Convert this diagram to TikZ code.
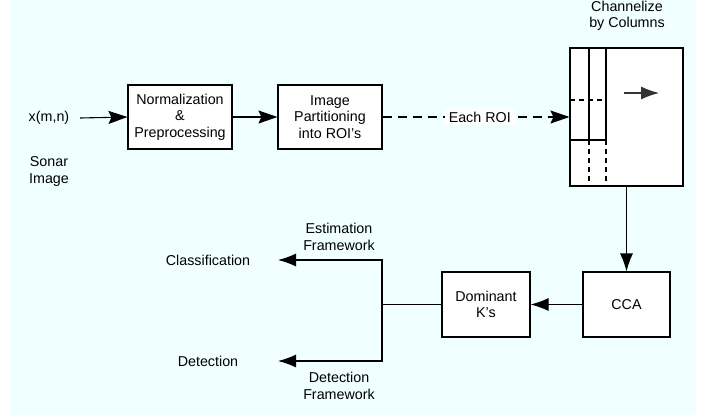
\documentclass[tikz,border=0pt]{standalone}
\usepackage{fontspec}
\setmainfont{Liberation Sans}
\usetikzlibrary{arrows.meta}
\definecolor{bgcyan}{HTML}{F0FFFF}
\definecolor{tipgray}{HTML}{333333}
\begin{document}
\begin{tikzpicture}[x=1pt,y=-1pt,
  every node/.style={font=\fontsize{14.3}{16.5}\selectfont, align=center, inner sep=0pt},
  blockbox/.style={draw, line width=1.1pt, fill=white},
  conn/.style={line width=1.1pt},
  tipA/.style={-{Stealth[length=19pt,width=13pt,inset=3pt]}},
  tipB/.style={-{Latex[length=18pt,width=13pt]}},
  dashline/.style={line width=1.1pt, dash pattern=on 9pt off 6pt},
  smalldash/.style={line width=1.1pt, dash pattern=on 5pt off 4pt}]
\useasboundingbox (0,0) rectangle (706,418);
\fill[bgcyan] (10,0) rectangle (696,415);

% top row
\node (xin) at (49,118) {x(m,n)};
\node (sonar) at (49,171.5) {Sonar\\Image};
\node[blockbox, minimum width=104pt, minimum height=64pt] (norm) at (180,117) {Normalization\\\&\\Preprocessing};
\node[blockbox, minimum width=104pt, minimum height=64pt] (part) at (330,117) {Image\\Partitioning\\into ROI's};
\node[blockbox, minimum width=113pt, minimum height=138pt] (big) at (626.5,117) {};
\node (chan) at (627,16) {Channelize\\by Columns};

\coordinate (xs) at (80,118);
\draw[conn, tipA] (xs) -- (norm.west);
\draw[conn, tipA] (norm.east) -- (part.west);
\draw[dashline, tipA] (part.east) -- node[pos=0.52, fill=white, inner xsep=4pt, inner ysep=3pt] (roi) {Each ROI} (big.west);

% inside of the channel box
\coordinate (c1t) at (589,48);
\coordinate (c1m) at (589,140);
\coordinate (c1b) at (589,186);
\coordinate (c2t) at (606,48);
\coordinate (c2m) at (606,140);
\coordinate (c2b) at (606,186);
\coordinate (hl) at (570,140);
\coordinate (dl) at (570,100);
\coordinate (dr) at (606,100);
\draw[conn] (c1t) -- (c1m);
\draw[conn] (c2t) -- (c2m);
\draw[conn] (hl) -- (c2m);
\draw[smalldash] (dl) -- (dr);
\draw[smalldash] (c1m) -- (c1b);
\draw[smalldash] (c2m) -- (c2b);
\coordinate (ia) at (624,93);
\coordinate (ib) at (659,93);
\draw[conn, draw=tipgray, -{Latex[length=18pt,width=13pt]}] (ia) -- (ib);

% bottom row
\node[blockbox, minimum width=87pt, minimum height=65pt] (cca) at (626.5,304.5) {CCA};
\node[blockbox, minimum width=88pt, minimum height=65pt] (dom) at (486,304.5) {Dominant\\K's};
\draw[conn, tipB] (big.south) -- (cca.north);
\draw[conn, tipB] (cca.west) -- (dom.east);

\coordinate (j) at (382,304.5);
\coordinate (jt) at (382,260);
\coordinate (jb) at (382,361);
\coordinate (ct) at (278,260);
\coordinate (dt) at (278,361);
\draw[conn] (dom.west) -- (j);
\draw[conn, tipB] (j) -- (jt) -- (ct);
\draw[conn, tipB] (j) -- (jb) -- (dt);

\node (cls) at (208,260) {Classification};
\node (det) at (208,361) {Detection};
\node (est) at (339,237) {Estimation\\Framework};
\node (detf) at (339,386) {Detection\\Framework};
\end{tikzpicture}
\end{document}
